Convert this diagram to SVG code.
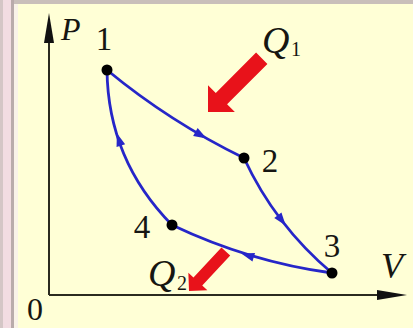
<svg xmlns="http://www.w3.org/2000/svg" width="413" height="328" viewBox="0 0 413 328">
<defs>
<style>
.t{font-family:"Liberation Serif","Times New Roman",serif;fill:#161612}
.i{font-style:italic}
.curve{fill:none;stroke:#2626C8;stroke-width:2.8}
.axis{stroke:#2b2b20;stroke-width:2;fill:none}
.dot{fill:#000}
.ah{fill:#2626C8}
.red{fill:#E8121A}
</style>
<polygon id="head" points="7,0 -6,-4.5 -6,4.5"/>
</defs>
<rect x="0" y="0" width="413" height="328" fill="#FFFFD6"/>
<rect x="0" y="0" width="413" height="4" fill="#C9BFBA"/>
<rect x="0" y="0" width="12" height="328" fill="#F2DCE2"/>
<rect x="0" y="0" width="3" height="328" fill="#D4C6C6"/>
<rect x="11" y="0" width="3" height="328" fill="#B9ABAB"/>
<rect x="14" y="4" width="4" height="324" fill="#F9F2E8"/>
<g id="connectors">
<g id="axes">
<line class="axis" x1="49" y1="295" x2="49" y2="40"/>
<polygon points="49,13 44,43 54,43" fill="#111"/>
<line class="axis" x1="49" y1="295" x2="380" y2="295"/>
<polygon points="407,295 377,290 377,300" fill="#111"/>
</g>
<path class="curve" d="M107,70 Q170,122 244,158"/>
<path class="curve" d="M244,158 Q275,225 332,273"/>
<path class="curve" d="M332,273 Q250,262 172,225"/>
<path class="curve" d="M172,225 Q108,160 107,70"/>
<use href="#head" class="ah" transform="translate(200.6,135) rotate(30)"/>
<use href="#head" class="ah" transform="translate(281.5,220) rotate(52.6)"/>
<use href="#head" class="ah" transform="translate(248,255.5) rotate(196.7)"/>
<use href="#head" class="ah" transform="translate(119,140) rotate(-108)"/>
</g>
<g id="n1"><circle class="dot" cx="107" cy="70" r="5.5"/><text class="t" x="104" y="50" font-size="33" text-anchor="middle">1</text></g>
<g id="n2"><circle class="dot" cx="244" cy="158" r="5.5"/><text class="t" x="270" y="172" font-size="33" text-anchor="middle">2</text></g>
<g id="n3"><circle class="dot" cx="332" cy="273" r="5.5"/><text class="t" x="332" y="257" font-size="33" text-anchor="middle">3</text></g>
<g id="n4"><circle class="dot" cx="172" cy="225" r="5.5"/><text class="t" x="142" y="238" font-size="33" text-anchor="middle">4</text></g>
<g id="labels">
<text class="t i" x="61" y="40" font-size="32">P</text>
<text class="t i" x="381" y="278" font-size="36">V</text>
<text class="t" x="35" y="320" font-size="32" text-anchor="middle">0</text>
<text class="t i" x="262" y="53" font-size="38">Q</text>
<text class="t" x="291" y="56" font-size="20">1</text>
<text class="t i" x="148" y="286" font-size="38">Q</text>
<text class="t" x="177" y="290" font-size="20">2</text>
</g>
<g id="q1arrow">
<polygon class="red" transform="translate(208,112) rotate(135)" points="0,0 -19,-19 -19,-8 -76,-8 -76,8 -19,8 -19,19"/>
</g>
<g id="q2arrow">
<polygon class="red" transform="translate(189,291) rotate(133)" points="0,0 -13,-13 -13,-6 -54,-6 -54,6 -13,6 -13,13"/>
</g>
</svg>
